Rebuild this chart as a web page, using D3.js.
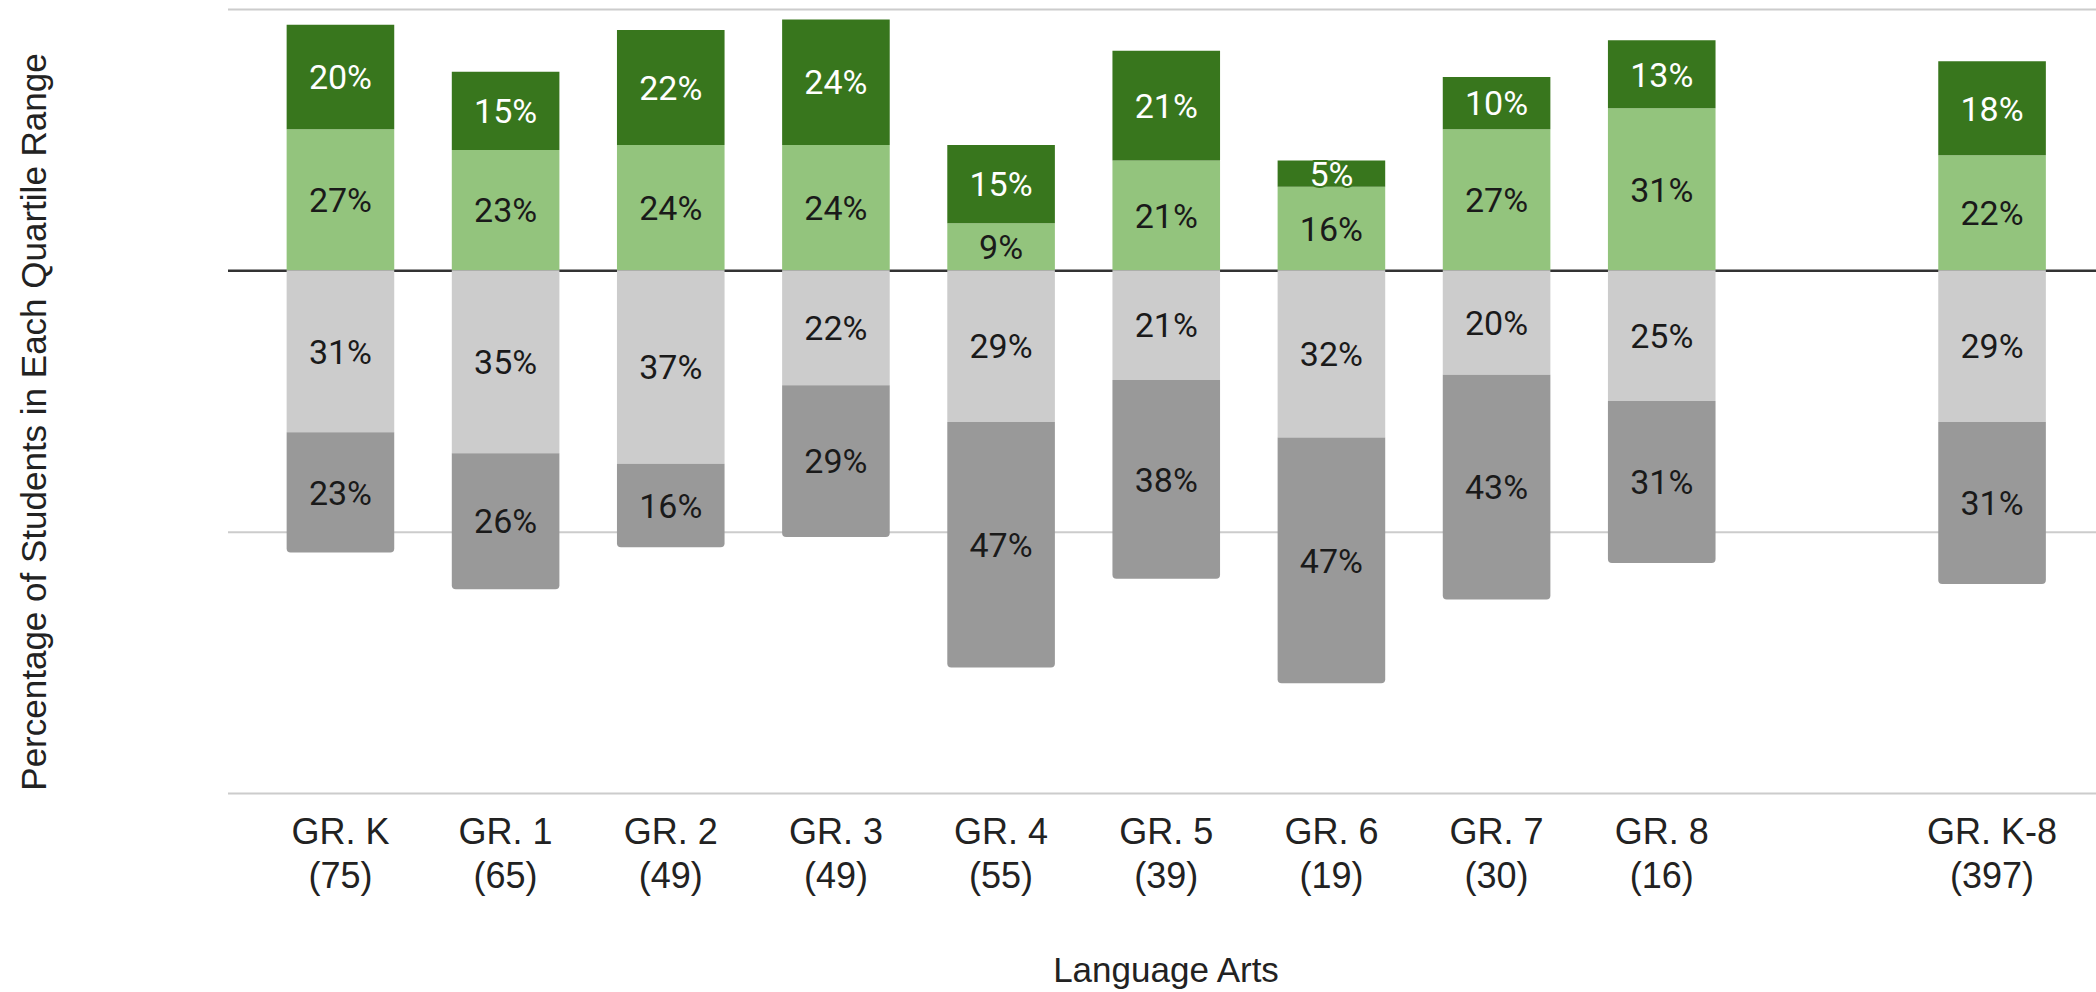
<!DOCTYPE html>
<html>
<head>
<meta charset="utf-8">
<script src="https://cdn.jsdelivr.net/npm/d3@7"></script>
<style>
  html, body { margin: 0; padding: 0; background: #fff; }
  svg { display: block; }
</style>
</head>
<body>
<svg id="chart" width="2096" height="992"></svg>
<script>
// ---- Data ----
const categories = ["GR. K", "GR. 1", "GR. 2", "GR. 3", "GR. 4", "GR. 5", "GR. 6", "GR. 7", "GR. 8", "", "GR. K-8"];
const counts     = [75, 65, 49, 49, 55, 39, 19, 30, 16, null, 397];
// Quartile ranges (percent of students)
const topQuartile    = [20, 15, 22, 24, 15, 21, 5, 10, 13, null, 18];  // dark green (above zero)
const thirdQuartile  = [27, 23, 24, 24, 9, 21, 16, 27, 31, null, 22];  // light green (above zero)
const secondQuartile = [31, 35, 37, 22, 29, 21, 32, 20, 25, null, 29]; // light grey (below zero)
const bottomQuartile = [23, 26, 16, 29, 47, 38, 47, 43, 31, null, 31]; // dark grey (below zero)
const yTicks = [50, 0, -50, -100];
const xTitle = "Language Arts";
const yTitle = "Percentage of Students in Each Quartile Range";

// ---- Layout ----
const W = 2096, H = 992;
const svg = d3.select("#chart");
const keys = categories.map((c, i) => "k" + i);

const x = d3.scaleBand().domain(keys).range([257.9, 2074.6]).paddingInner(0.3485).paddingOuter(0.174);
const y = d3.scaleLinear().domain([-100, 50]).range([793, 9]);

const colors = { top: "#38761d", third: "#93c47d", second: "#cccccc", bottom: "#999999" };

// ---- Gridlines ----
const gridG = svg.append("g").attr("transform", "translate(228,0)");
gridG.call(d3.axisLeft(y).tickValues(yTicks).tickSize(-(W - 228)).tickFormat(""));
gridG.select(".domain").remove();
gridG.selectAll(".tick line")
  .attr("stroke", d => d === 0 ? "#333333" : "#cccccc")
  .attr("stroke-width", d => d === 0 ? 2.5 : 2);

// ---- Build segments ----
const segs = [];
categories.forEach((c, i) => {
  if (topQuartile[i] == null) return;
  const k = keys[i];
  const t3 = thirdQuartile[i], t4 = topQuartile[i], b2 = secondQuartile[i], b1 = bottomQuartile[i];
  segs.push({ k, y0: 0, y1: t3, v: t3, fill: colors.third, text: "#1a1a1a", pos: "mid" });
  segs.push({ k, y0: t3, y1: t3 + t4, v: t4, fill: colors.top, text: "#ffffff", pos: "top" });
  segs.push({ k, y0: -b2, y1: 0, v: b2, fill: colors.second, text: "#1a1a1a", pos: "mid" });
  segs.push({ k, y0: -(b2 + b1), y1: -b2, v: b1, fill: colors.bottom, text: "#1a1a1a", pos: "bottom" });
});

const r = 4;
function segPath(d) {
  const x0 = x(d.k), x1 = x(d.k) + x.bandwidth();
  const yt = y(d.y1), yb = y(d.y0);
  if (d.pos === "bottom") {
    return `M${x0},${yt}H${x1}V${yb - r}Q${x1},${yb} ${x1 - r},${yb}H${x0 + r}Q${x0},${yb} ${x0},${yb - r}Z`;
  }
  return `M${x0},${yt}H${x1}V${yb}H${x0}Z`;
}

svg.append("g").selectAll("path.seg").data(segs).join("path")
  .attr("class", "seg")
  .attr("d", segPath)
  .attr("fill", d => d.fill);

// ---- Segment labels ----
const fmt = v => v + "%";
svg.append("g").selectAll("text.lbl").data(segs).join("text")
  .attr("class", "lbl")
  .attr("x", d => x(d.k) + x.bandwidth() / 2)
  .attr("y", d => (y(d.y0) + y(d.y1)) / 2)
  .attr("dy", "0.36em")
  .attr("text-anchor", "middle")
  .attr("font-family", "Roboto, 'Noto Sans', sans-serif")
  .attr("font-size", 34)
  .attr("fill", d => d.text)
  .attr("stroke", d => (Math.abs(y(d.y0) - y(d.y1)) < 34 ? d.fill : "none"))
  .attr("stroke-width", 4)
  .attr("stroke-linejoin", "round")
  .attr("paint-order", "stroke")
  .text(d => fmt(d.v));

// ---- X axis labels ----
const xAxisG = svg.append("g").attr("transform", "translate(0,793)")
  .call(d3.axisBottom(x).tickSize(0).tickFormat(""));
xAxisG.select(".domain").remove();
xAxisG.selectAll(".tick").each(function(k) {
  const i = keys.indexOf(k);
  if (!categories[i]) return;
  const t = d3.select(this).append("text")
    .attr("text-anchor", "middle")
    .attr("font-family", "Arial, 'Liberation Sans', sans-serif")
    .attr("font-size", 36)
    .attr("fill", "#222222");
  t.append("tspan").attr("x", 0).attr("y", 51).text(categories[i]);
  t.append("tspan").attr("x", 0).attr("y", 95).text("(" + counts[i] + ")");
});

// ---- Axis titles ----
svg.append("text")
  .attr("x", 1166).attr("y", 982)
  .attr("text-anchor", "middle")
  .attr("font-family", "Arial, 'Liberation Sans', sans-serif")
  .attr("font-size", 35)
  .attr("fill", "#222222")
  .text(xTitle);

svg.append("text")
  .attr("transform", "translate(46,422) rotate(-90)")
  .attr("text-anchor", "middle")
  .attr("font-family", "Arial, 'Liberation Sans', sans-serif")
  .attr("font-size", 35)
  .attr("fill", "#222222")
  .text(yTitle);
</script>
</body>
</html>
